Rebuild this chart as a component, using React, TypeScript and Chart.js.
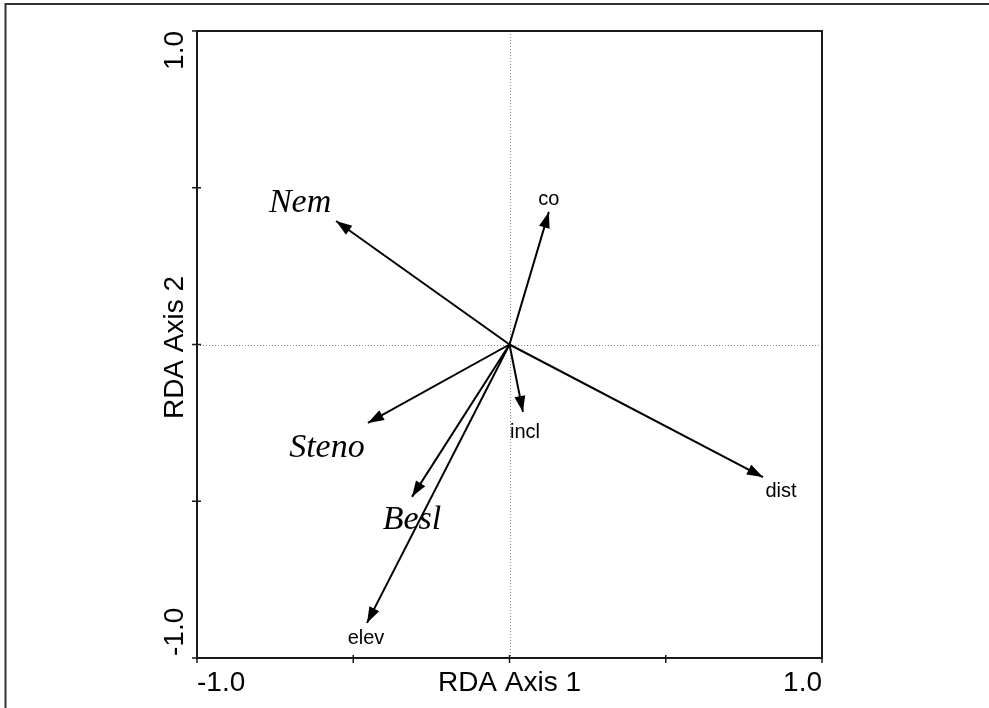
import React, { useEffect, useRef } from "react";
import { Chart, registerables } from "chart.js";

Chart.register(...registerables);

// ---- data ----
const vectorNames = ["Nem", "co", "Steno", "incl", "dist", "Besl", "elev"];
const vectorX = [-0.555, 0.126, -0.453, 0.043, 0.811, -0.312, -0.456];
const vectorY = [0.394, 0.423, -0.25, -0.215, -0.423, -0.486, -0.888];
const speciesNames = ["Nem", "Steno", "Besl"];
const axisTicks = [-1, -0.5, 0, 0.5, 1];
const tickLabelValues = [-1, 1];
const tickLabelTexts = ["-1.0", "1.0"];
const xAxisTitle = "RDA Axis 1";
const yAxisTitle = "RDA Axis 2";

// ---- styling (label offsets in px from arrow tip) ----
const labelOffsets: Record<string, [number, number]> = {
  Nem: [-36, -9],
  co: [0, -7],
  Steno: [-41, 34],
  incl: [2, 26],
  dist: [18, 20],
  Besl: [0, 32],
  elev: [-1, 21],
};

const SANS = '"Liberation Sans", Arial, sans-serif';
const SERIF = '"Liberation Serif", "Times New Roman", serif';

const biplotPlugin = {
  id: "biplot",
  beforeDatasetsDraw(chart: any) {
    const { ctx, chartArea: a, scales } = chart;
    const x0 = scales.x.getPixelForValue(0);
    const y0 = scales.y.getPixelForValue(0);
    ctx.save();
    ctx.strokeStyle = "#8a8a8a";
    ctx.lineWidth = 1;
    ctx.setLineDash([1, 2]);
    ctx.beginPath();
    ctx.moveTo(Math.round(x0) + 0.5, a.top);
    ctx.lineTo(Math.round(x0) + 0.5, a.bottom);
    ctx.moveTo(a.left, Math.round(y0) + 0.5);
    ctx.lineTo(a.right, Math.round(y0) + 0.5);
    ctx.stroke();
    ctx.restore();
  },
  afterDraw(chart: any) {
    const { ctx, chartArea: a, scales } = chart;
    const xs = scales.x;
    const ys = scales.y;
    const x0 = xs.getPixelForValue(0);
    const y0 = ys.getPixelForValue(0);
    ctx.save();

    // plot box
    ctx.strokeStyle = "#1a1a1a";
    ctx.lineWidth = 2;
    ctx.strokeRect(a.left, a.top, a.right - a.left, a.bottom - a.top);

    // crossing ticks
    ctx.lineWidth = 1.5;
    ctx.beginPath();
    axisTicks.forEach((t) => {
      const px = xs.getPixelForValue(t);
      ctx.moveTo(px, a.bottom - 3);
      ctx.lineTo(px, a.bottom + 5);
      const py = ys.getPixelForValue(t);
      ctx.moveTo(a.left - 5, py);
      ctx.lineTo(a.left + 4, py);
    });
    ctx.stroke();

    // arrowheads and labels
    vectorNames.forEach((name, i) => {
      const tx = xs.getPixelForValue(vectorX[i]);
      const ty = ys.getPixelForValue(vectorY[i]);
      const ang = Math.atan2(ty - y0, tx - x0);
      const len = 16;
      const hw = 5.5;
      const bx = tx - len * Math.cos(ang);
      const by = ty - len * Math.sin(ang);
      ctx.fillStyle = "#000";
      ctx.beginPath();
      ctx.moveTo(tx, ty);
      ctx.lineTo(bx + hw * Math.sin(ang), by - hw * Math.cos(ang));
      ctx.lineTo(bx - hw * Math.sin(ang), by + hw * Math.cos(ang));
      ctx.closePath();
      ctx.fill();

      const off = labelOffsets[name] || [0, 0];
      const isSpecies = speciesNames.includes(name);
      ctx.font = isSpecies ? `italic 34px ${SERIF}` : `20px ${SANS}`;
      ctx.textAlign = "center";
      ctx.textBaseline = "alphabetic";
      ctx.fillText(name, tx + off[0], ty + off[1]);
    });

    // x tick labels and title
    ctx.fillStyle = "#000";
    ctx.font = `28px ${SANS}`;
    ctx.textBaseline = "alphabetic";
    const xBase = a.bottom + 33;
    tickLabelValues.forEach((v, i) => {
      const px = xs.getPixelForValue(v);
      ctx.textAlign = v < 0 ? "left" : "right";
      ctx.fillText(tickLabelTexts[i], px, xBase);
    });
    ctx.textAlign = "center";
    ctx.fillText(xAxisTitle, x0, xBase);

    // y tick labels and title (rotated)
    const yBase = a.left - 14;
    tickLabelValues.forEach((v, i) => {
      const py = ys.getPixelForValue(v);
      ctx.save();
      ctx.translate(yBase, v < 0 ? py - 2 : py);
      ctx.rotate(-Math.PI / 2);
      ctx.textAlign = v < 0 ? "left" : "right";
      ctx.fillText(tickLabelTexts[i], 0, 0);
      ctx.restore();
    });
    ctx.save();
    ctx.translate(yBase, y0 + 3);
    ctx.rotate(-Math.PI / 2);
    ctx.textAlign = "center";
    ctx.fillText(yAxisTitle, 0, 0);
    ctx.restore();

    // outer frame (top and left)
    ctx.strokeStyle = "#333";
    ctx.lineWidth = 2;
    ctx.beginPath();
    ctx.moveTo(989, 4);
    ctx.lineTo(5.5, 4);
    ctx.lineTo(5.5, 708);
    ctx.stroke();

    ctx.restore();
  },
};

export default function App() {
  const canvasRef = useRef<HTMLCanvasElement | null>(null);

  useEffect(() => {
    if (!canvasRef.current) return;
    const datasets = vectorNames.map((name, i) => ({
      label: name,
      data: [
        { x: 0, y: 0 },
        { x: vectorX[i], y: vectorY[i] },
      ],
      showLine: true,
      borderColor: "#000",
      borderWidth: 2,
      pointRadius: 0,
      fill: false,
    }));
    const chart = new Chart(canvasRef.current, {
      type: "scatter",
      data: { datasets },
      options: {
        responsive: false,
        animation: false,
        devicePixelRatio: 1,
        layout: { padding: { left: 197, right: 167, top: 31, bottom: 50 } },
        scales: {
          x: { type: "linear", min: -1, max: 1, display: false },
          y: { type: "linear", min: -1, max: 1, display: false },
        },
        plugins: {
          legend: { display: false },
          tooltip: { enabled: false },
        },
      },
      plugins: [biplotPlugin],
    });
    return () => chart.destroy();
  }, []);

  return (
    <div style={{ position: "absolute", left: 0, top: 0, width: 989, height: 708, background: "#fff" }}>
      <canvas ref={canvasRef} width={989} height={708} style={{ display: "block" }} />
    </div>
  );
}
